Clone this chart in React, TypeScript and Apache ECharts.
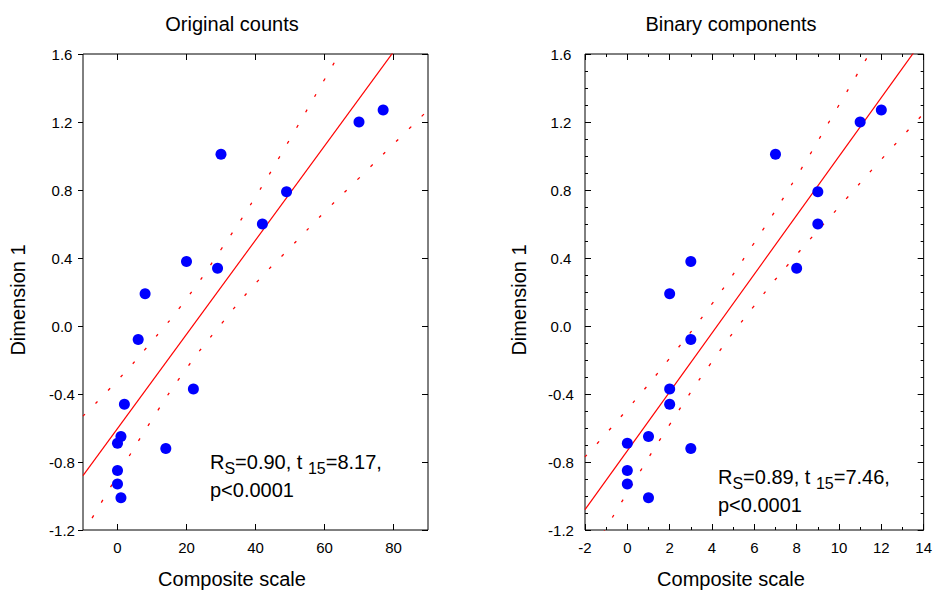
import React, { useEffect, useRef } from "react";
import * as echarts from "echarts";

// ---- data ----
const dimension1 = [1.27, 1.2, 1.01, 0.79, 0.6, 0.38, 0.34, 0.19, -0.08, -0.37, -0.46, -0.65, -0.69, -0.72, -0.85, -0.93, -1.01];
const originalCounts = [77, 70, 30, 49, 42, 20, 29, 8, 6, 22, 2, 1, 0, 14, 0, 0, 1];
const binaryComponents = [12, 11, 7, 9, 9, 3, 8, 2, 3, 2, 2, 1, 0, 3, 0, 0, 1];

// regression lines (end points)
const leftFit = [[-10, -0.88], [90, 1.89]];
const rightFit = [[-2, -1.08], [14, 1.69]];

// confidence bands
const leftUpper = [[-10, -0.53], [0, -0.32], [10, -0.09], [20, 0.16], [30, 0.45], [40, 0.76], [50, 1.1], [60, 1.45], [70, 1.8]];
const leftLower = [[-10, -1.22], [0, -0.88], [10, -0.55], [20, -0.25], [30, 0.01], [40, 0.25], [50, 0.46], [60, 0.67], [70, 0.87], [80, 1.07], [90, 1.27]];
const rightUpper = [[-2, -0.77], [0, -0.49], [2, -0.19], [4, 0.13], [6, 0.49], [8, 0.88], [10, 1.3], [12, 1.72]];
const rightLower = [[-2, -1.4], [0, -0.98], [2, -0.58], [4, -0.21], [6, 0.12], [8, 0.42], [10, 0.7], [12, 0.98], [14, 1.25]];

// tick labels
const leftXTicks = [0, 20, 40, 60, 80];
const yTickLabels = ["-1.2", "-0.8", "-0.4", "0.0", "0.4", "0.8", "1.2", "1.6"];

const titles = ["Original counts", "Binary components"];
const xName = "Composite scale";
const yName = "Dimension 1";
const stats = [
  { r: "0.90", t: "8.17", df: "15", p: "p<0.0001" },
  { r: "0.89", t: "7.46", df: "15", p: "p<0.0001" },
];

const FONT = "'Liberation Sans', Arial, sans-serif";

function yFmt(v: number) {
  if (Math.abs(v) < 1e-9) return yTickLabels[3];
  return v.toFixed(1);
}

export default function App() {
  const ref = useRef<HTMLDivElement>(null);
  useEffect(() => {
    if (!ref.current) return;
    const chart = echarts.init(ref.current, null, { renderer: "svg" });
    const tickStyle = { color: "#000", width: 1 };
    const labelBase = { color: "#000", fontFamily: FONT, fontSize: 15 };
    const noLine = { show: false, onZero: false };

    const ptsLeft = originalCounts.map((x, i) => [x, dimension1[i]]);
    const ptsRight = binaryComponents.map((x, i) => [x, dimension1[i]]);

    const bandStyle = { color: "#ff0000", width: 1.3, type: [3, 15] as any };

    const option: any = {
      animation: false,
      grid: [
        { left: 83, top: 54, width: 345, height: 476, show: true, borderColor: "#000", borderWidth: 1, backgroundColor: "transparent" },
        { left: 585, top: 54, width: 339, height: 476, show: true, borderColor: "#000", borderWidth: 1, backgroundColor: "transparent" },
      ],
      xAxis: [
        {
          type: "value", gridIndex: 0, position: "bottom", min: -10, max: 90, interval: 10,
          axisLine: noLine, splitLine: { show: false },
          axisTick: { show: true, inside: true, length: 6, lineStyle: tickStyle, customValues: leftXTicks },
          axisLabel: { ...labelBase, margin: 10, customValues: leftXTicks, formatter: (v: number) => String(v) },
        },
        {
          type: "value", gridIndex: 0, position: "top", min: -10, max: 90, interval: 10,
          axisLine: noLine, splitLine: { show: false },
          axisTick: { show: true, inside: true, length: 6, lineStyle: tickStyle, customValues: leftXTicks },
          axisLabel: { show: false },
        },
        {
          type: "value", gridIndex: 1, position: "bottom", min: -2, max: 14, interval: 2,
          axisLine: noLine, splitLine: { show: false },
          axisTick: { show: true, inside: true, length: 6, lineStyle: tickStyle },
          minorTick: { show: true, splitNumber: 2, length: 3, lineStyle: tickStyle },
          axisLabel: { ...labelBase, margin: 10 },
        },
        {
          type: "value", gridIndex: 1, position: "top", min: -2, max: 14, interval: 2,
          axisLine: noLine, splitLine: { show: false },
          axisTick: { show: true, inside: true, length: 6, lineStyle: tickStyle },
          minorTick: { show: true, splitNumber: 2, length: 3, lineStyle: tickStyle },
          axisLabel: { show: false },
        },
      ],
      yAxis: [
        {
          type: "value", gridIndex: 0, position: "left", min: -1.2, max: 1.6, interval: 0.4,
          axisLine: noLine, splitLine: { show: false },
          axisTick: { show: true, inside: false, length: 5, lineStyle: tickStyle },
          axisLabel: { ...labelBase, margin: 21, align: "center", formatter: yFmt },
        },
        {
          type: "value", gridIndex: 0, position: "right", min: -1.2, max: 1.6, interval: 0.4,
          axisLine: noLine, splitLine: { show: false },
          axisTick: { show: true, inside: true, length: 6, lineStyle: tickStyle },
          axisLabel: { show: false },
        },
        {
          type: "value", gridIndex: 1, position: "left", min: -1.2, max: 1.6, interval: 0.4,
          axisLine: noLine, splitLine: { show: false },
          axisTick: { show: true, inside: true, length: 6, lineStyle: tickStyle },
          minorTick: { show: true, splitNumber: 4, length: 3, lineStyle: tickStyle },
          axisLabel: { ...labelBase, margin: 24, align: "center", formatter: yFmt },
        },
        {
          type: "value", gridIndex: 1, position: "right", min: -1.2, max: 1.6, interval: 0.4,
          axisLine: noLine, splitLine: { show: false },
          axisTick: { show: true, inside: true, length: 6, lineStyle: tickStyle },
          minorTick: { show: true, splitNumber: 4, length: 3, lineStyle: tickStyle },
          axisLabel: { show: false },
        },
      ],
      series: [
        { type: "line", xAxisIndex: 0, yAxisIndex: 0, data: leftFit, showSymbol: false, symbol: "none", lineStyle: { color: "#ff0000", width: 1.2 }, clip: true, silent: true },
        { type: "line", xAxisIndex: 0, yAxisIndex: 0, data: leftUpper, smooth: true, showSymbol: false, symbol: "none", lineStyle: bandStyle, clip: true, silent: true },
        { type: "line", xAxisIndex: 0, yAxisIndex: 0, data: leftLower, smooth: true, showSymbol: false, symbol: "none", lineStyle: bandStyle, clip: true, silent: true },
        { type: "scatter", xAxisIndex: 0, yAxisIndex: 0, data: ptsLeft, symbolSize: 11, itemStyle: { color: "#0000ff", opacity: 1 }, z: 5 },
        { type: "line", xAxisIndex: 2, yAxisIndex: 2, data: rightFit, showSymbol: false, symbol: "none", lineStyle: { color: "#ff0000", width: 1.2 }, clip: true, silent: true },
        { type: "line", xAxisIndex: 2, yAxisIndex: 2, data: rightUpper, smooth: true, showSymbol: false, symbol: "none", lineStyle: bandStyle, clip: true, silent: true },
        { type: "line", xAxisIndex: 2, yAxisIndex: 2, data: rightLower, smooth: true, showSymbol: false, symbol: "none", lineStyle: bandStyle, clip: true, silent: true },
        { type: "scatter", xAxisIndex: 2, yAxisIndex: 2, data: ptsRight, symbolSize: 11, itemStyle: { color: "#0000ff", opacity: 1 }, z: 5 },
      ],
      graphic: [
        { type: "text", x: 232, y: 24, style: { text: titles[0], font: `20px ${FONT}`, fill: "#000", textAlign: "center", textVerticalAlign: "middle" } },
        { type: "text", x: 731, y: 24, style: { text: titles[1], font: `20px ${FONT}`, fill: "#000", textAlign: "center", textVerticalAlign: "middle" } },
        { type: "text", x: 232, y: 579, style: { text: xName, font: `20px ${FONT}`, fill: "#000", textAlign: "center", textVerticalAlign: "middle" } },
        { type: "text", x: 731, y: 579, style: { text: xName, font: `20px ${FONT}`, fill: "#000", textAlign: "center", textVerticalAlign: "middle" } },
        { type: "text", x: 18, y: 300, rotation: Math.PI / 2, style: { text: yName, font: `20px ${FONT}`, fill: "#000", textAlign: "center", textVerticalAlign: "middle" } },
        { type: "text", x: 519, y: 300, rotation: Math.PI / 2, style: { text: yName, font: `20px ${FONT}`, fill: "#000", textAlign: "center", textVerticalAlign: "middle" } },
        ...stats.map((s, i) => ({
          type: "text",
          x: i === 0 ? 210 : 718,
          y: i === 0 ? 448 : 463,
          z: 10,
          style: {
            text: `{a|R}{s|S}{a|=${s.r}, t }{s|${s.df}}{a|=${s.t},}\n{a|${s.p}}`,
            textAlign: "left",
            textVerticalAlign: "top",
            fill: "#000",
            font: `20px ${FONT}`,
            rich: {
              a: { fontSize: 20, fontFamily: FONT, lineHeight: 28, fill: "#000" },
              s: { fontSize: 16, fontFamily: FONT, lineHeight: 15, verticalAlign: "bottom", fill: "#000" },
            },
          },
        })),
      ],
    };
    chart.setOption(option);
    return () => chart.dispose();
  }, []);
  return (
    <div
      ref={ref}
      style={{ position: "absolute", left: 0, top: 0, width: 935, height: 596, background: "#fff" }}
    />
  );
}
